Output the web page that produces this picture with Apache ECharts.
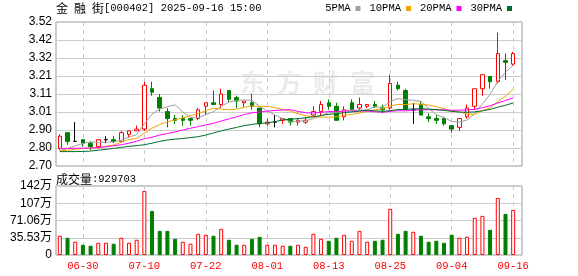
<!DOCTYPE html>
<html><head><meta charset="utf-8">
<script src="https://cdn.jsdelivr.net/npm/echarts@6/dist/echarts.min.js"></script>
<style>html,body{margin:0;padding:0;background:#fff}#c{width:578px;height:276px}</style>
</head><body><div id="c"></div>
<script>
const dates = ['06-25','06-26','06-27','06-30','07-01','07-02','07-03','07-04','07-07','07-08','07-09','07-10','07-11','07-14','07-15','07-16','07-17','07-18','07-21','07-22','07-23','07-24','07-25','07-28','07-29','07-30','07-31','08-01','08-04','08-05','08-06','08-07','08-08','08-11','08-12','08-13','08-14','08-15','08-18','08-19','08-20','08-21','08-22','08-25','08-26','08-27','08-28','08-29','09-01','09-02','09-03','09-04','09-05','09-08','09-09','09-10','09-11','09-12','09-15','09-16'];
const tickDates = ['06-30','07-10','07-22','08-01','08-13','08-25','09-04','09-16'];
const openP  = [2.80,2.89,2.84,2.85,2.83,2.81,2.85,2.85,2.84,2.88,2.90,2.91,3.14,3.09,3.01,2.97,2.97,2.97,2.97,3.04,3.06,3.05,3.13,3.09,3.06,3.06,3.03,2.94,2.95,2.96,2.97,2.95,2.95,2.99,3.01,3.06,3.04,2.98,3.06,3.03,3.04,3.05,3.03,3.03,3.16,3.13,3.02,3.05,2.98,2.97,2.97,2.93,2.92,2.98,3.04,3.14,3.21,3.18,3.30,3.28];
const closeP = [2.87,2.84,2.84,2.83,2.81,2.85,2.85,2.84,2.89,2.90,2.91,3.16,3.12,3.03,2.97,2.96,2.96,2.96,3.02,3.06,3.05,3.11,3.08,3.07,3.07,3.04,2.94,2.95,2.95,2.97,2.95,2.96,2.96,3.01,3.05,3.04,2.96,3.02,3.02,3.05,3.05,3.04,3.02,3.17,3.14,3.02,3.02,2.99,2.97,2.96,2.94,2.91,2.97,3.03,3.14,3.22,3.18,3.34,3.29,3.34];
const lowP   = [2.79,2.82,2.84,2.81,2.79,2.80,2.83,2.83,2.84,2.86,2.90,2.90,3.10,3.01,2.92,2.94,2.93,2.93,2.96,2.99,3.05,3.03,3.06,3.03,3.03,3.02,2.92,2.93,2.92,2.94,2.93,2.93,2.94,2.98,2.99,3.02,2.96,2.96,3.02,3.02,3.03,3.03,3.00,3.02,3.13,3.02,2.94,2.99,2.95,2.94,2.93,2.89,2.90,2.97,3.02,3.10,3.14,3.17,3.19,3.27];
const highP  = [2.88,2.89,2.95,2.85,2.84,2.85,2.87,2.87,2.90,2.90,2.93,3.18,3.18,3.11,3.03,2.99,2.99,2.97,3.03,3.06,3.13,3.14,3.13,3.10,3.07,3.11,3.03,2.97,2.99,2.97,2.97,2.97,2.98,3.04,3.07,3.08,3.06,3.04,3.08,3.09,3.05,3.07,3.05,3.22,3.18,3.14,3.06,3.07,3.00,2.99,2.98,2.93,2.97,3.05,3.14,3.22,3.21,3.46,3.34,3.35];
const volume = [396000,355000,273000,211000,191000,252000,252000,232000,355000,252000,314000,1319000,908000,498000,498000,334000,273000,232000,437000,416000,396000,539000,314000,211000,211000,334000,375000,211000,211000,191000,191000,211000,170000,437000,334000,293000,355000,416000,293000,498000,273000,293000,314000,950000,437000,498000,478000,396000,273000,293000,252000,416000,355000,375000,765000,806000,519000,1175000,847000,929703];
const volUp  = [1,0,1,0,0,1,1,0,1,1,1,1,0,0,0,0,1,1,1,1,0,1,0,0,1,0,0,1,1,1,0,1,1,1,1,0,0,1,1,1,1,0,0,1,0,0,1,0,0,0,0,0,1,1,1,1,0,1,0,1];
const ma5  = [2.787,2.800,2.815,2.828,2.838,2.834,2.836,2.836,2.848,2.866,2.878,2.940,2.996,3.024,3.038,3.048,3.008,2.976,2.974,2.992,3.010,3.040,3.064,3.074,3.076,3.074,3.040,3.014,2.990,2.970,2.952,2.956,2.958,2.970,2.986,3.004,3.004,3.016,3.018,3.018,3.020,3.036,3.036,3.066,3.084,3.078,3.074,3.068,3.028,2.992,2.976,2.954,2.950,2.962,2.998,3.054,3.108,3.182,3.234,3.274];
const ma10 = [2.787,2.790,2.795,2.800,2.801,2.805,2.811,2.820,2.835,2.852,2.856,2.888,2.916,2.936,2.952,2.963,2.974,2.986,2.999,3.015,3.029,3.024,3.020,3.024,3.034,3.042,3.040,3.039,3.032,3.023,3.013,2.998,2.986,2.980,2.978,2.978,2.980,2.987,2.994,3.002,3.012,3.020,3.026,3.042,3.051,3.049,3.055,3.052,3.047,3.038,3.027,3.014,3.009,2.995,2.995,3.015,3.031,3.066,3.098,3.136];
const ma20 = [2.800,2.800,2.801,2.801,2.802,2.805,2.809,2.815,2.821,2.830,2.841,2.855,2.864,2.876,2.885,2.894,2.905,2.915,2.924,2.934,2.943,2.956,2.968,2.980,2.993,3.003,3.007,3.013,3.016,3.019,3.021,3.011,3.003,3.002,3.006,3.010,3.010,3.013,3.013,3.013,3.013,3.009,3.006,3.011,3.015,3.014,3.018,3.020,3.021,3.020,3.020,3.017,3.018,3.019,3.023,3.032,3.043,3.059,3.073,3.087];
const ma30 = [2.782,2.782,2.782,2.783,2.785,2.790,2.795,2.800,2.806,2.812,2.816,2.821,2.830,2.840,2.848,2.853,2.857,2.862,2.867,2.876,2.888,2.900,2.910,2.920,2.930,2.937,2.942,2.946,2.952,2.963,2.966,2.970,2.974,2.980,2.988,2.994,2.998,3.004,3.008,3.013,3.018,3.014,3.011,3.015,3.021,3.023,3.025,3.026,3.024,3.021,3.017,3.011,3.007,3.006,3.008,3.014,3.022,3.035,3.046,3.059];
const priceTicks = ['2.70','2.80','2.90','3.01','3.11','3.21','3.32','3.42','3.52'];
const volTicks = ['0','35.53万','71.06万','107万','142万'];

const P_MIN = 2.70, P_MAX = 3.52, P_INT = 0.1025;
const V_MAX = 1421200, V_INT = 355300;

const candleData = dates.map((d, i) => {
  const v = [openP[i], closeP[i], lowP[i], highP[i]];
  if (openP[i] === closeP[i]) {
    return { value: v, itemStyle: { color: '#000', color0: '#000', borderColor: '#000', borderColor0: '#000' } };
  }
  return v;
});
const volData = volume.map((v, i) => ({
  value: v,
  itemStyle: volUp[i] ? { color: '#fff', borderColor: '#ff0000', borderWidth: 1 }
                      : { color: '#008000', borderColor: '#008000', borderWidth: 1 }
}));

const monoFont = 'Liberation Mono';
const labelFont = 'Liberation Sans, Noto Sans CJK SC';
const dashed = { color: '#cccccc', type: [4, 4], width: 1 };
const richText = {
  a: { fontFamily: 'Noto Sans CJK SC', fontSize: 12, color: '#000', fontWeight: 'normal' },
  b: { fontFamily: monoFont, fontSize: 10.5, color: '#000', fontWeight: 'normal' }
};

const chart = echarts.init(document.getElementById('c'), null, { renderer: 'canvas' });
chart.setOption({
  animation: false,
  backgroundColor: '#fff',
  title: [
    { left: 56, top: 2, padding: 0, text: '{a|金\u2002融\u2002街}{b|[000402] 2025-09-16 15:00}',
      textStyle: { fontWeight: 'normal', rich: richText } },
    { left: 56, top: 173, padding: 0, text: '{a|成交量}{b|:' + volume[volume.length - 1] + '}',
      textStyle: { fontWeight: 'normal', rich: richText } }
  ],
  legend: {
    right: 66, top: 3, padding: 0, align: 'right', icon: 'rect', itemWidth: 5, itemHeight: 5, itemGap: 9,
    selectedMode: false,
    data: ['5PMA', '10PMA', '20PMA', '30PMA'],
    textStyle: { fontFamily: monoFont, fontSize: 10.5, color: '#000' }
  },
  graphic: [
    { type: 'text', left: 240, top: 70, z: 0, style: { text: '东', font: 'bold 25px "Noto Sans CJK SC"', fill: '#ebebeb' } },
    { type: 'text', left: 277, top: 70, z: 0, style: { text: '方', font: 'bold 25px "Noto Sans CJK SC"', fill: '#ebebeb' } },
    { type: 'text', left: 313, top: 70, z: 0, style: { text: '财', font: 'bold 25px "Noto Sans CJK SC"', fill: '#ebebeb' } },
    { type: 'text', left: 350, top: 70, z: 0, style: { text: '富', font: 'bold 25px "Noto Sans CJK SC"', fill: '#ebebeb' } }
  ],
  grid: [
    { left: 56, top: 22, width: 466, height: 144, show: true, borderColor: '#999', borderWidth: 1, backgroundColor: 'transparent' },
    { left: 56, top: 22, width: 461, height: 144 },
    { left: 56, top: 186, width: 466, height: 69, show: true, borderColor: '#999', borderWidth: 1, backgroundColor: 'transparent' },
    { left: 56, top: 186, width: 461, height: 69 }
  ],
  xAxis: [
    { type: 'value', gridIndex: 0, show: false, min: 0, max: 1 },
    { type: 'category', gridIndex: 1, data: dates, boundaryGap: true,
      axisLine: { show: false }, axisTick: { show: false }, axisLabel: { show: false },
      splitLine: { show: true, alignWithLabel: true, interval: (i, v) => tickDates.includes(v), lineStyle: dashed } },
    { type: 'value', gridIndex: 2, show: false, min: 0, max: 1 },
    { type: 'category', gridIndex: 3, data: dates, boundaryGap: true,
      axisLine: { show: false }, axisTick: { show: false },
      axisLabel: { show: true, interval: (i, v) => tickDates.includes(v), color: '#ff0000', fontFamily: monoFont, fontSize: 10.5, margin: 6 },
      splitLine: { show: true, alignWithLabel: true, interval: (i, v) => tickDates.includes(v), lineStyle: dashed } }
  ],
  yAxis: [
    { type: 'value', gridIndex: 0, min: P_MIN, max: P_MAX, interval: P_INT,
      axisLine: { show: false }, axisTick: { show: false },
      axisLabel: { margin: 4, color: '#000', fontFamily: labelFont, fontSize: 12,
        formatter: v => priceTicks[Math.round((v - P_MIN) / P_INT)] || '' },
      splitLine: { show: true, lineStyle: { color: '#cccccc', width: 1 } } },
    { type: 'value', gridIndex: 1, min: P_MIN, max: P_MAX, show: false },
    { type: 'value', gridIndex: 2, min: 0, max: V_MAX, interval: V_INT,
      axisLine: { show: false }, axisTick: { show: false },
      axisLabel: { margin: 4, color: '#000', fontFamily: labelFont, fontSize: 12,
        formatter: v => volTicks[Math.round(v / V_INT)] || '' },
      splitLine: { show: true, lineStyle: { color: '#cccccc', width: 1 } } },
    { type: 'value', gridIndex: 3, min: 0, max: V_MAX, show: false }
  ],
  series: [
    { type: 'candlestick', name: 'K', xAxisIndex: 1, yAxisIndex: 1, barWidth: 4, z: 3,
      itemStyle: { color: '#fff', color0: '#008000', borderColor: '#ff0000', borderColor0: '#008000', borderWidth: 1 },
      data: candleData },
    { type: 'line', name: '5PMA', xAxisIndex: 1, yAxisIndex: 1, data: ma5, symbol: 'none', z: 4,
      color: '#a0a0a0', lineStyle: { width: 1, color: '#a0a0a0' } },
    { type: 'line', name: '10PMA', xAxisIndex: 1, yAxisIndex: 1, data: ma10, symbol: 'none', z: 4,
      color: '#f5a300', lineStyle: { width: 1, color: '#f5a300' } },
    { type: 'line', name: '20PMA', xAxisIndex: 1, yAxisIndex: 1, data: ma20, symbol: 'none', z: 4,
      color: '#ff00ff', lineStyle: { width: 1, color: '#ff00ff' } },
    { type: 'line', name: '30PMA', xAxisIndex: 1, yAxisIndex: 1, data: ma30, symbol: 'none', z: 4,
      color: '#006e2e', lineStyle: { width: 1, color: '#006e2e' } },
    { type: 'bar', name: 'VOL', xAxisIndex: 3, yAxisIndex: 3, barWidth: 4, data: volData }
  ]
});
</script>
</body></html>
